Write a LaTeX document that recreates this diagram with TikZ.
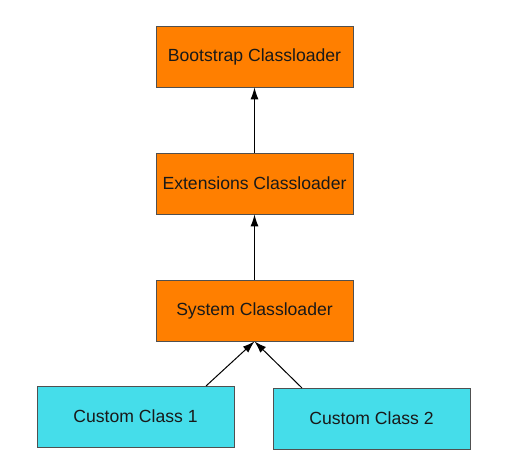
\documentclass[tikz,border=0pt]{standalone}
\usepackage{fontspec}
\setmainfont{Liberation Sans}
\usetikzlibrary{arrows.meta}
\definecolor{boxorange}{HTML}{FF7F00}
\definecolor{boxcyan}{HTML}{45DDEA}
\definecolor{boxedge}{HTML}{505050}
\begin{document}
\begin{tikzpicture}[x=1pt,y=-1pt,
  loader/.style={draw=boxedge, fill=boxorange, line width=0.8pt, minimum width=197pt, minimum height=61pt, inner sep=0pt, font=\fontsize{17.6}{20}\selectfont, text=black!90},
  custom/.style={draw=boxedge, fill=boxcyan, line width=0.8pt, minimum width=197pt, minimum height=61pt, inner sep=0pt, font=\fontsize{17.6}{20}\selectfont, text=black!90},
  conn/.style={draw=black, line width=1pt, -{Latex[length=12pt,width=8pt]}}]
\useasboundingbox (0,0) rectangle (512,476);
\node[loader] (boot) at (254.5,56.5) {Bootstrap Classloader};
\node[loader] (ext) at (254.5,183.5) {Extensions Classloader};
\node[loader] (sys) at (254.5,310.5) {System Classloader};
\node[custom] (c1) at (135.5,416.5) {Custom Class 1};
\node[custom] (c2) at (371.5,418.5) {Custom Class 2};
\coordinate (c1top) at (206,386);
\coordinate (c2top) at (302,388);
\draw[conn] (ext.north) -- (boot.south);
\draw[conn] (sys.north) -- (ext.south);
\draw[conn] (c1top) -- (sys.south);
\draw[conn] (c2top) -- (sys.south);
\end{tikzpicture}
\end{document}
